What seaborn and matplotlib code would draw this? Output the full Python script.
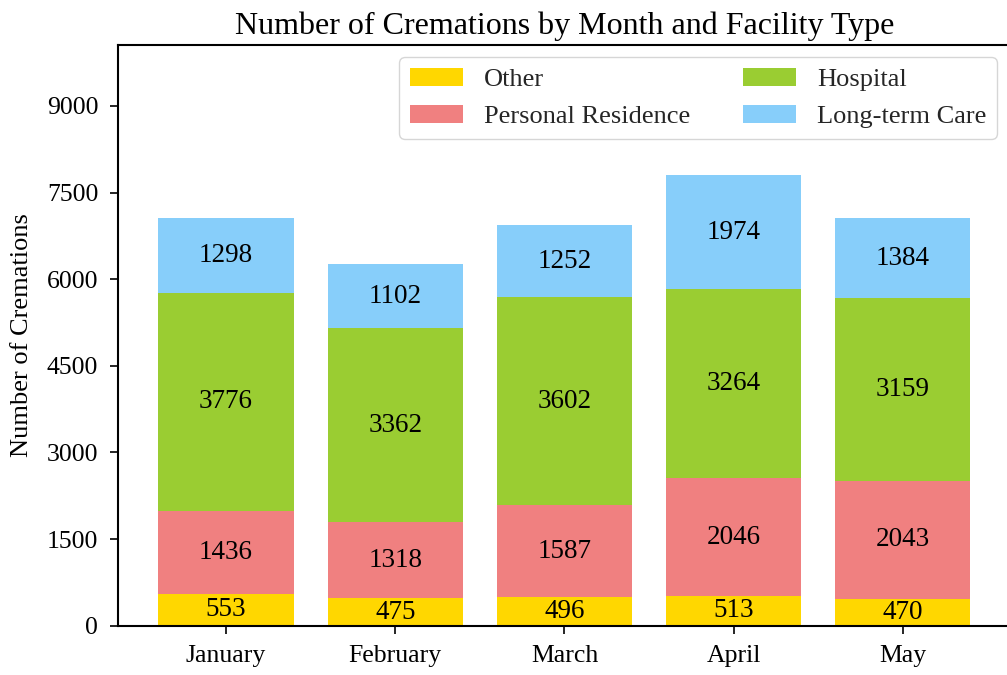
import numpy as np
import seaborn as sns
import matplotlib.pyplot as plt

months = ["January", "February", "March", "April", "May"]
other = [553, 475, 496, 513, 470]
personal = [1436, 1318, 1587, 2046, 2043]
hospital = [3776, 3362, 3602, 3264, 3159]
longterm = [1298, 1102, 1252, 1974, 1384]

series = [
    ("Other", other, "#FFD700"),
    ("Personal Residence", personal, "#F08080"),
    ("Hospital", hospital, "#9ACD32"),
    ("Long-term Care", longterm, "#87CEFA"),
]

sns.set_style("ticks")
plt.rcParams["font.family"] = ["Liberation Serif", "DejaVu Serif"]

fig = plt.figure(figsize=(10.07, 6.75), dpi=100)
ax = fig.add_axes([0.117, 0.073, 0.887, 0.86])

bottom = np.zeros(len(months))
for name, vals, col in series:
    sns.barplot(x=months, y=vals, bottom=bottom, color=col, label=name,
                width=0.8, ax=ax, saturation=1, linewidth=0)
    bottom = bottom + np.array(vals)

for cont in ax.containers:
    ax.bar_label(cont, label_type="center", fontsize=19.5, color="black")

ax.set_xlim(-0.64, 4.64)
ax.set_ylim(0, 10050)
ax.set_yticks(range(0, 9001, 1500))
ax.tick_params(labelsize=18.5, width=1.2, length=6, pad=8, colors="black")
for s in ax.spines.values():
    s.set_linewidth(1.5)
    s.set_color("black")
ax.set_ylabel("Number of Cremations", fontsize=19, color="black", labelpad=10)
ax.set_xlabel("")
ax.set_title("Number of Cremations by Month and Facility Type", fontsize=23,
             color="black", pad=8)
ax.legend(ncol=2, loc="upper right", fontsize=19, handlelength=2.0,
          handletextpad=0.8, columnspacing=2.0, borderaxespad=0,
          bbox_to_anchor=(0.984, 0.979))

plt.savefig("out.png", dpi=100)
plt.close()
